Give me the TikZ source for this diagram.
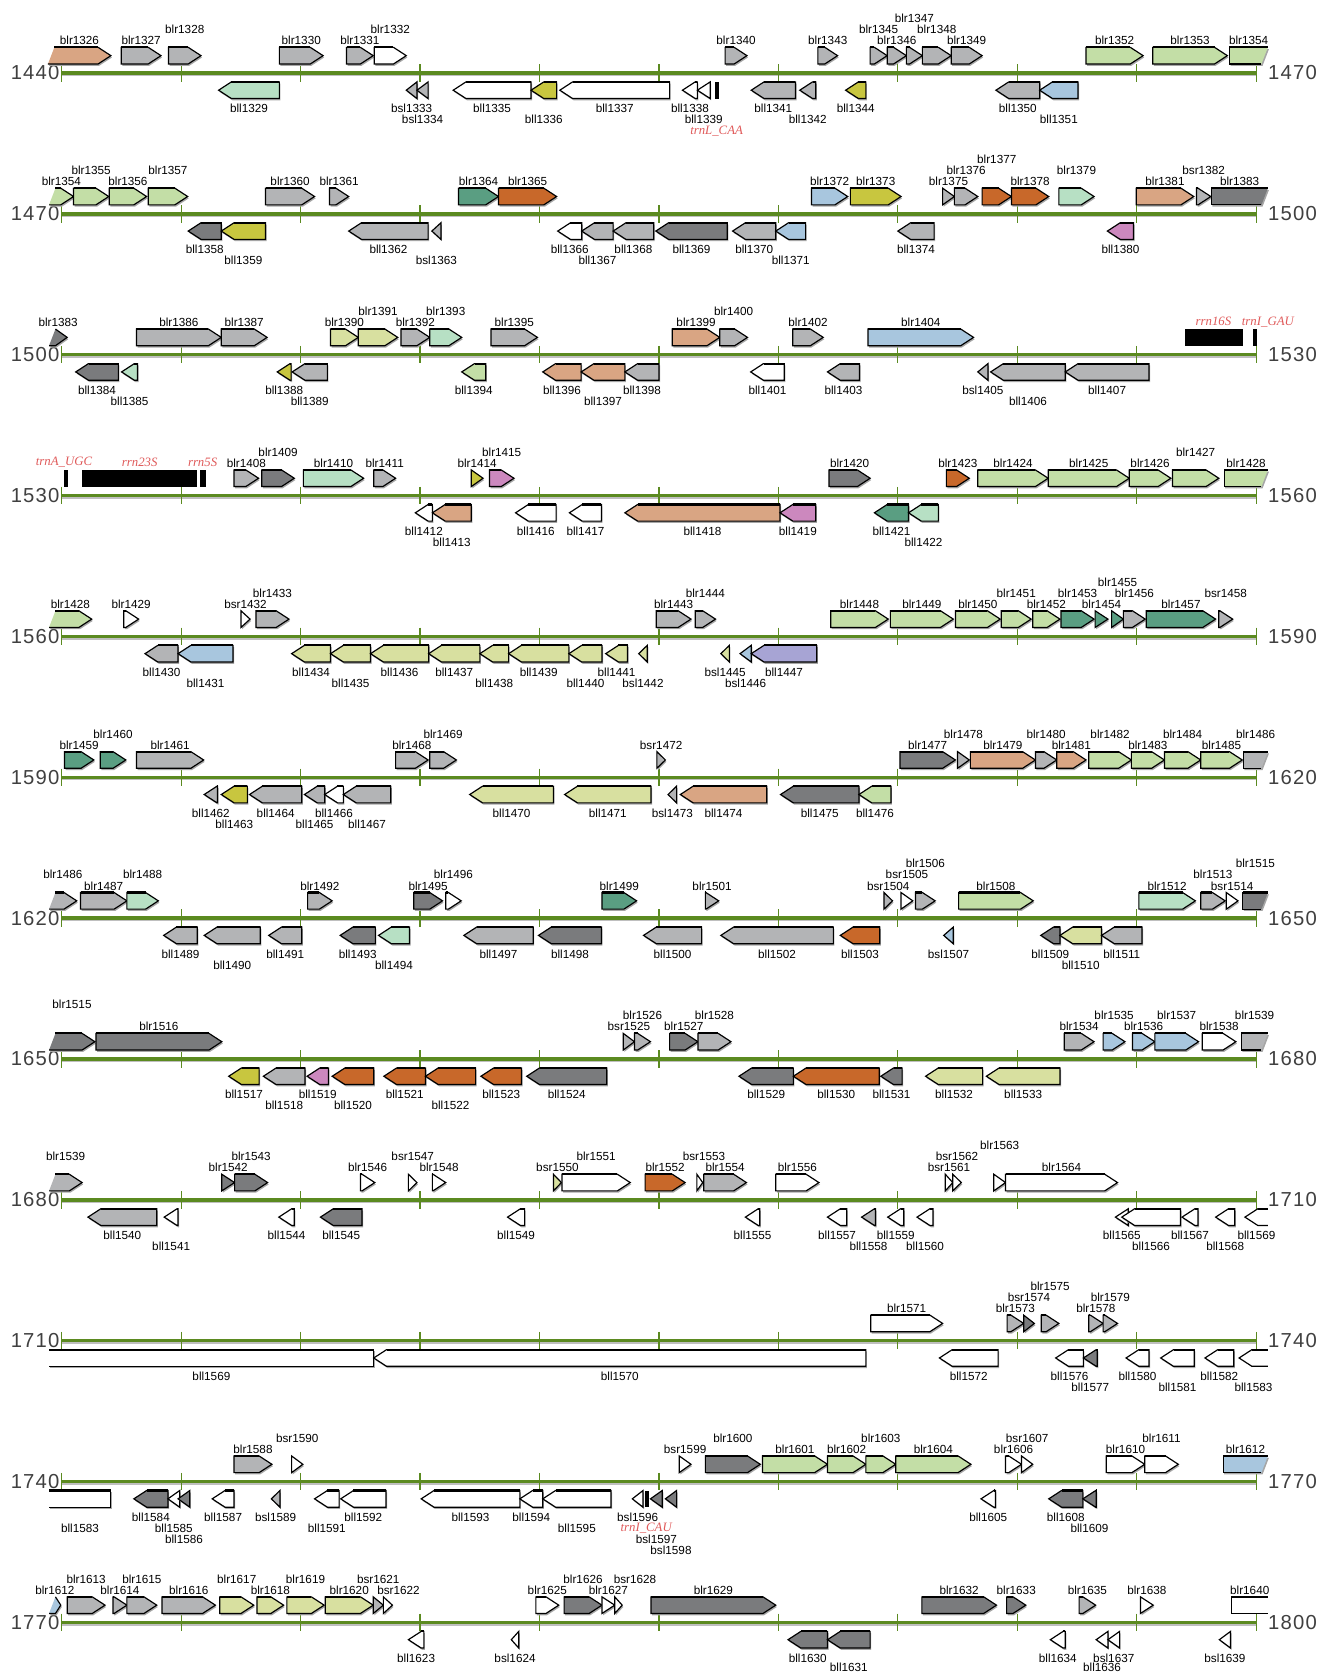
\documentclass[tikz,border=0pt]{standalone}
\usepackage{fontspec}
\usepackage{tikz}
\newfontfamily\labelfam{Liberation Sans}
\newfontfamily\numfam[LetterSpace=6]{Liberation Sans}
\newfontfamily\rnafam{Liberation Serif}
\definecolor{axisgreen}{HTML}{5B8A20}
\definecolor{rnared}{HTML}{E05A5A}
\definecolor{csalmon}{HTML}{D9A583}
\definecolor{cgray}{HTML}{B3B4B6}
\definecolor{cdgray}{HTML}{7A7B7D}
\definecolor{clgreen}{HTML}{C3DEA6}
\definecolor{cmint}{HTML}{B7E0C4}
\definecolor{colive}{HTML}{C8C63F}
\definecolor{cteal}{HTML}{5A9E82}
\definecolor{corange}{HTML}{C8682A}
\definecolor{cblue}{HTML}{A8C6DE}
\definecolor{cpink}{HTML}{CC88BE}
\definecolor{cpyg}{HTML}{D8E0A0}
\definecolor{clav}{HTML}{A7A4D4}
\newcommand\genefont{\labelfam\fontsize{11}{12}\selectfont}
\newcommand\rnafont{\rnafam\itshape\fontsize{12}{13}\selectfont}
\newcommand\numfont{\numfam\fontsize{19}{20}\selectfont}
\newcommand\lblshift{0}
\newcommand\rowy[1]{\pgfmathsetmacro\yy{68.4+132.1*#1}}
\newcommand\uplbl[4]{\pgfmathsetmacro\ly{\yy-30.3-10.4*(#4-1)}\node[lbl] (#3) at ({(#1+#2)/2+\lblshift},\ly) {#3};}
\newcommand\dnlbl[4]{\pgfmathsetmacro\ly{min(\yy+33.5+10.3*(#4-1),1563.3)}\node[lbl] (#3) at ({(#1+#2)/2+\lblshift},\ly) {#3};}
% genes on the upper strand, tip on the right
\newcommand\fgene[6]{\rowy{#1}\pgfmathsetmacro\xb{max(#2,#3-12)}%
  \fill[geneshadow] (#2,\yy-24) -- (\xb,\yy-24) -- (#3,\yy-16.2) -- (\xb,\yy-8.4) -- (#2,\yy-8.4) -- cycle;
  \draw[gene,fill=#4] (#2,\yy-24) -- (\xb,\yy-24) -- (#3,\yy-16.2) -- (\xb,\yy-8.4) -- (#2,\yy-8.4) -- cycle;
  \draw[genetop] (#2,\yy-24) -- (\xb,\yy-24);
  \uplbl{#2}{#3}{#5}{#6}}
\newcommand\fgenecl[6]{\rowy{#1}\pgfmathsetmacro\xb{max(#2+6,#3-12)}%
  \fill[geneshadow] (#2,\yy-8.4) -- (#2+6,\yy-24) -- (\xb,\yy-24) -- (#3,\yy-16.2) -- (\xb,\yy-8.4) -- cycle;
  \fill[#4] (#2,\yy-8.4) -- (#2+6,\yy-24) -- (\xb,\yy-24) -- (#3,\yy-16.2) -- (\xb,\yy-8.4) -- cycle;
  \draw[gene] (#2+6,\yy-24) -- (\xb,\yy-24) -- (#3,\yy-16.2) -- (\xb,\yy-8.4) -- (#2,\yy-8.4);
  \draw[genetop] (#2+6,\yy-24) -- (\xb,\yy-24);
  \uplbl{#2}{#3}{#5}{#6}}
\newcommand\fgenecr[6]{\rowy{#1}%
  \fill[geneshadow] (#2,\yy-24) -- (#3,\yy-24) -- (#3-6,\yy-8.4) -- (#2,\yy-8.4) -- cycle;
  \fill[#4] (#2,\yy-24) -- (#3,\yy-24) -- (#3-6,\yy-8.4) -- (#2,\yy-8.4) -- cycle;
  \draw[gene] (#3,\yy-24) -- (#2,\yy-24) -- (#2,\yy-8.4) -- (#3-6,\yy-8.4);
  \draw[genetop] (#2,\yy-24) -- (#3,\yy-24);
  \uplbl{#2}{#3}{#5}{#6}}
\newcommand\fgeneor[6]{\rowy{#1}%
  \fill[#4] (#2,\yy-24) rectangle (#3,\yy-8.4);
  \draw[gene] (#3,\yy-24) -- (#2,\yy-24) -- (#2,\yy-8.4) -- (#3,\yy-8.4);
  \draw[genetop] (#2,\yy-24) -- (#3,\yy-24);
  \uplbl{#2}{#3}{#5}{#6}}
% genes on the lower strand, tip on the left
\newcommand\rgene[6]{\rowy{#1}\pgfmathsetmacro\xb{min(#3,#2+12)}%
  \fill[geneshadow] (#3,\yy+8.4) -- (\xb,\yy+8.4) -- (#2,\yy+16.2) -- (\xb,\yy+24) -- (#3,\yy+24) -- cycle;
  \draw[gene,fill=#4] (#3,\yy+8.4) -- (\xb,\yy+8.4) -- (#2,\yy+16.2) -- (\xb,\yy+24) -- (#3,\yy+24) -- cycle;
  \draw[genetop] (#3,\yy+8.4) -- (\xb,\yy+8.4);
  \dnlbl{#2}{#3}{#5}{#6}}
\newcommand\rgeneor[6]{\rowy{#1}\pgfmathsetmacro\xb{min(#3,#2+12)}%
  \fill[#4] (#3,\yy+8.4) -- (\xb,\yy+8.4) -- (#2,\yy+16.2) -- (\xb,\yy+24) -- (#3,\yy+24) -- cycle;
  \draw[gene] (#3,\yy+8.4) -- (\xb,\yy+8.4) -- (#2,\yy+16.2) -- (\xb,\yy+24) -- (#3,\yy+24);
  \draw[genetop] (#3,\yy+8.4) -- (\xb,\yy+8.4);
  \dnlbl{#2}{#3}{#5}{#6}}
\newcommand\rgeneol[6]{\rowy{#1}%
  \fill[geneshadow] (#2,\yy+8.4) rectangle (#3,\yy+24);
  \fill[#4] (#2,\yy+8.4) rectangle (#3,\yy+24);
  \draw[gene] (#2,\yy+8.4) -- (#3,\yy+8.4) -- (#3,\yy+24) -- (#2,\yy+24);
  \draw[genetop] (#2,\yy+8.4) -- (#3,\yy+8.4);
  \dnlbl{#2}{#3}{#5}{#6}}
% rRNA and tRNA
\newcommand\frna[6]{\rowy{#1}%
  \fill (#2,\yy-24) rectangle (#3,\yy-8.4);
  \node[rnalbl] (#4) at (#6,\yy-31) {#5};}
\newcommand\rrna[7]{\rowy{#1}%
  \fill (#2,\yy+8.4) rectangle (#3,\yy+24);
  \pgfmathsetmacro\ly{\yy+33.5+10.3*(#7-1)}%
  \node[rnalbl] (#4) at (#6,\ly) {#5};}

\begin{document}
\begin{tikzpicture}[x=1pt, y=-1pt,
  gene/.style={draw=black, line width=1.1pt, line join=miter},
  genetop/.style={draw=black, line width=2pt},
  geneshadow/.style={fill=black!35, shift={(1,1.7)}},
  lbl/.style={font=\genefont, inner sep=0pt},
  rnalbl/.style={font=\rnafont, text=rnared, inner sep=0pt},
  axisline/.style={draw=axisgreen, line width=3.2pt},
  tickmark/.style={draw=axisgreen, line width=1.2pt},
  num/.style={font=\numfont, text=black!75, inner sep=0pt}]
\fill[white] (0,0) rectangle (1247,1568);
\useasboundingbox (0,0) rectangle (1247,1568);

\foreach \r in {0,...,11}{
  \rowy{\r}
  \pgfmathtruncatemacro\ka{1440+30*\r}
  \pgfmathtruncatemacro\kb{1470+30*\r}
  \draw[black!25, line width=1.5pt] (58,\yy+2.2) -- (1178,\yy+2.2);
  \draw[axisline] (58,\yy) -- (1178,\yy);
  \foreach \t in {0,...,10}
    \draw[tickmark] (58+112*\t,\yy-8.2) -- (58+112*\t,\yy+8.2);
  \node[num, anchor=east] (left\r) at (56,\yy) {\ka};
  \node[num, anchor=west] (right\r) at (1189,\yy) {\kb};
}

% 1440-1470
\fgenecl{0}{45}{104}{csalmon}{blr1326}{1}
\fgene{0}{113.7}{151}{cgray}{blr1327}{1}
\fgene{0}{158}{188.5}{cgray}{blr1328}{2}
\fgene{0}{262}{303}{cgray}{blr1330}{1}
\fgene{0}{325}{350}{cgray}{blr1331}{1}
\fgene{0}{351}{381}{white}{blr1332}{2}
\fgene{0}{680}{700.5}{cgray}{blr1340}{1}
\fgene{0}{767}{785.5}{cgray}{blr1343}{1}
\fgene{0}{816}{832}{cgray}{blr1345}{2}
\fgene{0}{832}{850}{cgray}{blr1346}{1}
\fgene{0}{850}{865}{cgray}{blr1347}{3}
\fgene{0}{865}{892}{cgray}{blr1348}{2}
\fgene{0}{892}{921}{cgray}{blr1349}{1}
\fgene{0}{1018.5}{1072}{clgreen}{blr1352}{1}
\fgene{0}{1081}{1151}{clgreen}{blr1353}{1}
\fgenecr{0}{1153}{1189}{clgreen}{blr1354}{1}
\rgene{0}{205}{262}{cmint}{bll1329}{1}
\rgene{0}{381}{391}{cgray}{bsl1333}{1}
\rgene{0}{391}{401.5}{cgray}{bsl1334}{2}
\rgene{0}{425}{498}{white}{bll1335}{1}
\rgene{0}{498}{522}{colive}{bll1336}{2}
\rgene{0}{525}{628}{white}{bll1337}{1}
\rgene{0}{640}{654}{white}{bll1338}{1}
\rgene{0}{654}{666}{white}{bll1339}{2}
\rrna{0}{670.5}{674.5}{trnLCAA}{trnL\_CAA}{672}{3}
\rgene{0}{704.5}{746}{cgray}{bll1341}{1}
\rgene{0}{750}{765}{cgray}{bll1342}{2}
\rgene{0}{793}{812}{colive}{bll1344}{1}
\rgene{0}{934}{975}{cgray}{bll1350}{1}
\rgene{0}{975}{1011}{cblue}{bll1351}{2}

% 1470-1500
\fgenecl{1}{46}{69}{clgreen}{blr1354}{1}
\fgene{1}{69}{102}{clgreen}{blr1355}{2}
\fgene{1}{102.5}{137.5}{clgreen}{blr1356}{1}
\fgene{1}{139}{176}{clgreen}{blr1357}{2}
\fgene{1}{249}{295}{cgray}{blr1360}{1}
\fgene{1}{309}{327}{cgray}{blr1361}{1}
\fgene{1}{430}{467.5}{cteal}{blr1364}{1}
\fgene{1}{467.5}{522}{corange}{blr1365}{1}
\fgene{1}{761}{795}{cblue}{blr1372}{1}
\fgene{1}{797.5}{845}{colive}{blr1373}{1}
\fgene{1}{884}{895}{cgray}{blr1375}{1}
\fgene{1}{895}{917}{cgray}{blr1376}{2}
\fgene{1}{921}{948.5}{corange}{blr1377}{3}
\fgene{1}{948.5}{983.5}{corange}{blr1378}{1}
\fgene{1}{993}{1026}{cmint}{blr1379}{2}
\fgene{1}{1065.5}{1119.5}{csalmon}{blr1381}{1}
\fgene{1}{1122}{1135.5}{cgray}{bsr1382}{2}
\fgenecr{1}{1136}{1189}{cdgray}{blr1383}{1}
\rgene{1}{176.5}{207.5}{cdgray}{bll1358}{1}
\rgene{1}{207.5}{249}{colive}{bll1359}{2}
\rgene{1}{327}{401.5}{cgray}{bll1362}{1}
\rgene{1}{405}{413.5}{cgray}{bsl1363}{2}
\rgene{1}{523}{545.5}{white}{bll1366}{1}
\rgene{1}{545.5}{575}{cgray}{bll1367}{2}
\rgene{1}{575}{613}{cgray}{bll1368}{1}
\rgene{1}{615}{682}{cdgray}{bll1369}{1}
\rgene{1}{687}{727.5}{cgray}{bll1370}{1}
\rgene{1}{727.5}{755.5}{cblue}{bll1371}{2}
\rgene{1}{842}{876}{cgray}{bll1374}{1}
\rgene{1}{1038.5}{1063}{cpink}{bll1380}{1}

% 1500-1530
\fgenecl{2}{46}{63}{cdgray}{blr1383}{1}
\fgene{2}{128}{207.5}{cgray}{blr1386}{1}
\fgene{2}{207.5}{250.5}{cgray}{blr1387}{1}
\fgene{2}{310}{336}{cpyg}{blr1390}{1}
\fgene{2}{336}{373}{cpyg}{blr1391}{2}
\fgene{2}{376}{403}{cgray}{blr1392}{1}
\fgene{2}{403}{433}{cmint}{blr1393}{2}
\fgene{2}{460.5}{504}{cgray}{blr1395}{1}
\fgene{2}{630.5}{675}{csalmon}{blr1399}{1}
\fgene{2}{675}{701}{cgray}{blr1400}{2}
\fgene{2}{743.5}{772}{cgray}{blr1402}{1}
\fgene{2}{814}{913}{cblue}{blr1404}{1}
\frna{2}{1111}{1166}{rrn16S}{rrn16S}{1138}
\frna{2}{1175.5}{1179}{trnIGAU}{trnI\_GAU}{1189}
\rgene{2}{71}{111}{cdgray}{bll1384}{1}
\rgene{2}{114}{129}{cmint}{bll1385}{2}
\rgene{2}{260}{273}{colive}{bll1388}{1}
\rgene{2}{274}{307}{cgray}{bll1389}{2}
\rgene{2}{433}{455.5}{clgreen}{bll1394}{1}
\rgene{2}{509}{545}{csalmon}{bll1396}{1}
\rgene{2}{545}{586}{csalmon}{bll1397}{2}
\rgene{2}{586}{618}{cgray}{bll1398}{1}
\rgene{2}{704}{735.5}{white}{bll1401}{1}
\rgene{2}{776}{806}{cgray}{bll1403}{1}
\rgene{2}{917}{926.5}{cgray}{bsl1405}{1}
\rgene{2}{929}{999}{cgray}{bll1406}{2}
\rgene{2}{999}{1077.5}{cgray}{bll1407}{1}

% 1530-1560
\frna{3}{59.6}{63.6}{trnAUGC}{trnA\_UGC}{60}
\frna{3}{77}{184.5}{rrn23S}{rrn23S}{131}
\frna{3}{187.5}{193}{rrn5S}{rrn5S}{190}
\fgene{3}{219.5}{242.5}{cgray}{blr1408}{1}
\fgene{3}{245.5}{276}{cdgray}{blr1409}{2}
\fgene{3}{284.5}{341}{cmint}{blr1410}{1}
\fgene{3}{350.5}{371}{cgray}{blr1411}{1}
\fgene{3}{442}{453}{colive}{blr1414}{1}
\fgene{3}{459}{482}{cpink}{blr1415}{2}
\fgene{3}{777.5}{816}{cdgray}{blr1420}{1}
\fgene{3}{887.5}{909}{corange}{blr1423}{1}
\fgene{3}{917}{983}{clgreen}{blr1424}{1}
\fgene{3}{983}{1059}{clgreen}{blr1425}{1}
\fgene{3}{1059}{1098}{clgreen}{blr1426}{1}
\fgene{3}{1099.5}{1143}{clgreen}{blr1427}{2}
\fgenecr{3}{1148}{1189}{clgreen}{blr1428}{1}
\rgene{3}{389.5}{405.5}{white}{bll1412}{1}
\rgene{3}{405.5}{442}{csalmon}{bll1413}{2}
\rgene{3}{483.5}{521.5}{white}{bll1416}{1}
\rgene{3}{534}{564}{white}{bll1417}{1}
\rgene{3}{586}{731.5}{csalmon}{bll1418}{1}
\rgene{3}{731.5}{765}{cpink}{bll1419}{1}
\rgene{3}{820}{852}{cteal}{bll1421}{1}
\rgene{3}{852}{880}{cmint}{bll1422}{2}

% 1560-1590
\fgenecl{4}{46}{86}{clgreen}{blr1428}{1}
\fgene{4}{116}{130}{white}{blr1429}{1}
\fgene{4}{226}{234.5}{white}{bsr1432}{1}
\fgene{4}{240}{271}{cgray}{blr1433}{2}
\fgene{4}{615.5}{648}{cgray}{blr1443}{1}
\fgene{4}{652}{671}{cgray}{blr1444}{2}
\fgene{4}{779}{833}{clgreen}{blr1448}{1}
\fgene{4}{835}{894}{clgreen}{blr1449}{1}
\fgene{4}{896}{938}{clgreen}{blr1450}{1}
\fgene{4}{939}{967}{clgreen}{blr1451}{2}
\fgene{4}{968.5}{994}{clgreen}{blr1452}{1}
\fgene{4}{995}{1026}{cteal}{blr1453}{2}
\fgene{4}{1027}{1039}{cteal}{blr1454}{1}
\fgene{4}{1042.5}{1053.5}{cteal}{blr1455}{3}
\fgene{4}{1053.5}{1074}{cgray}{blr1456}{2}
\fgene{4}{1075}{1140}{cteal}{blr1457}{1}
\fgene{4}{1143}{1156}{cgray}{bsr1458}{2}
\rgene{4}{136}{167}{cgray}{bll1430}{1}
\rgene{4}{167}{218.5}{cblue}{bll1431}{2}
\rgene{4}{273.5}{310}{cpyg}{bll1434}{1}
\rgene{4}{310}{347.5}{cpyg}{bll1435}{2}
\rgene{4}{347.5}{402}{cpyg}{bll1436}{1}
\rgene{4}{402}{450}{cpyg}{bll1437}{1}
\rgene{4}{450}{477}{cpyg}{bll1438}{2}
\rgene{4}{477}{533.5}{cpyg}{bll1439}{1}
\rgene{4}{533.5}{564.5}{cpyg}{bll1440}{2}
\rgene{4}{568}{588.5}{cpyg}{bll1441}{1}
\rgene{4}{599}{607}{cpyg}{bsl1442}{2}
\rgene{4}{676}{684}{cpyg}{bsl1445}{1}
\rgene{4}{694}{704.5}{cblue}{bsl1446}{2}
\rgene{4}{704.5}{766}{clav}{bll1447}{1}

% 1590-1620
\fgene{5}{60.5}{88}{cteal}{blr1459}{1}
\fgene{5}{94}{118}{cteal}{blr1460}{2}
\fgene{5}{128}{191}{cgray}{blr1461}{1}
\fgene{5}{371}{401.5}{cgray}{blr1468}{1}
\fgene{5}{403}{428}{cgray}{blr1469}{2}
\fgene{5}{616}{624}{cgray}{bsr1472}{1}
\fgene{5}{844}{896}{cdgray}{blr1477}{1}
\fgene{5}{898}{909}{cgray}{blr1478}{2}
\fgene{5}{910}{971}{csalmon}{blr1479}{1}
\fgene{5}{971}{991}{cgray}{blr1480}{2}
\fgene{5}{991}{1018.5}{csalmon}{blr1481}{1}
\fgene{5}{1021}{1061}{clgreen}{blr1482}{2}
\fgene{5}{1061}{1092}{clgreen}{blr1483}{1}
\fgene{5}{1092}{1126}{clgreen}{blr1484}{2}
\fgene{5}{1126}{1165}{clgreen}{blr1485}{1}
\fgenecr{5}{1166}{1189}{cgray}{blr1486}{2}
\rgene{5}{191.5}{204}{cgray}{bll1462}{1}
\rgene{5}{207.5}{232}{colive}{bll1463}{2}
\rgene{5}{234}{283}{cgray}{bll1464}{1}
\rgene{5}{285.5}{304.5}{cgray}{bll1465}{2}
\rgene{5}{304.5}{322}{white}{bll1466}{1}
\rgene{5}{322}{366.5}{cgray}{bll1467}{2}
\rgene{5}{440.5}{519}{cpyg}{bll1470}{1}
\rgene{5}{529.5}{610.5}{cpyg}{bll1471}{1}
\rgene{5}{626.5}{634.5}{cgray}{bsl1473}{1}
\rgene{5}{638}{719}{csalmon}{bll1474}{1}
\rgene{5}{732}{805.5}{cdgray}{bll1475}{1}
\rgene{5}{805.5}{835.5}{clgreen}{bll1476}{1}

% 1620-1650
\fgenecl{6}{46}{72}{cgray}{blr1486}{2}
\fgene{6}{75.5}{119}{cgray}{blr1487}{1}
\fgene{6}{119}{148.5}{cmint}{blr1488}{2}
\fgene{6}{288.5}{311.5}{cgray}{blr1492}{1}
\fgene{6}{388}{415}{cdgray}{blr1495}{1}
\fgene{6}{418}{432.5}{white}{blr1496}{2}
\fgene{6}{564.5}{597}{cteal}{blr1499}{1}
\fgene{6}{661.5}{674}{cgray}{blr1501}{1}
\fgene{6}{829}{837}{cgray}{bsr1504}{1}
\fgene{6}{845}{856}{white}{bsr1505}{2}
\fgene{6}{858.5}{877}{cgray}{blr1506}{3}
\fgene{6}{899}{969}{clgreen}{blr1508}{1}
\fgene{6}{1068}{1121}{cmint}{blr1512}{1}
\fgene{6}{1126}{1149}{cgray}{blr1513}{2}
\fgene{6}{1150}{1161}{white}{bsr1514}{1}
\fgenecr{6}{1165.5}{1189}{cdgray}{blr1515}{3}
\rgene{6}{153.5}{185}{cgray}{bll1489}{1}
\rgene{6}{191.5}{244}{cgray}{bll1490}{2}
\rgene{6}{252}{283}{cgray}{bll1491}{1}
\rgene{6}{319}{352}{cdgray}{bll1493}{1}
\rgene{6}{355}{384}{cmint}{bll1494}{2}
\rgene{6}{435}{500}{cgray}{bll1497}{1}
\rgene{6}{505}{564}{cdgray}{bll1498}{1}
\rgene{6}{603.5}{658}{cgray}{bll1500}{1}
\rgene{6}{676}{781.5}{cgray}{bll1502}{1}
\rgene{6}{788}{825}{corange}{bll1503}{1}
\rgene{6}{885}{894}{cblue}{bsl1507}{1}
\rgene{6}{976}{994}{cdgray}{bll1509}{1}
\rgene{6}{994}{1033}{cpyg}{bll1510}{2}
\rgene{6}{1033}{1071}{cgray}{bll1511}{1}

% 1650-1680
\fgenecl{7}{46}{89}{cdgray}{blr1515}{3}
\fgene{7}{90}{208}{cdgray}{blr1516}{1}
\fgene{7}{584.5}{595}{cgray}{bsr1525}{1}
\fgene{7}{595}{610}{cgray}{blr1526}{2}
\fgene{7}{628}{654.5}{cdgray}{blr1527}{1}
\fgene{7}{654.5}{685.5}{cgray}{blr1528}{2}
\fgene{7}{998}{1026}{cgray}{blr1534}{1}
\fgene{7}{1034.5}{1055}{cblue}{blr1535}{2}
\fgene{7}{1062}{1083}{cblue}{blr1536}{1}
\fgene{7}{1083}{1124}{cblue}{blr1537}{2}
\fgene{7}{1127.5}{1159}{white}{blr1538}{1}
\fgenecr{7}{1164}{1189}{cgray}{blr1539}{2}
\rgene{7}{214.5}{243}{colive}{bll1517}{1}
\rgene{7}{247}{286}{cgray}{bll1518}{2}
\rgene{7}{288}{308}{cpink}{bll1519}{1}
\rgene{7}{311.5}{350.5}{corange}{bll1520}{2}
\rgene{7}{360}{399}{corange}{bll1521}{1}
\rgene{7}{399}{446}{corange}{bll1522}{2}
\rgene{7}{451}{489}{corange}{bll1523}{1}
\rgene{7}{494}{569}{cdgray}{bll1524}{1}
\rgene{7}{693}{744}{cdgray}{bll1529}{1}
\rgene{7}{744}{824.5}{corange}{bll1530}{1}
\rgene{7}{826}{846}{cdgray}{bll1531}{1}
\rgene{7}{868}{921.5}{cpyg}{bll1532}{1}
\rgene{7}{925}{994}{cpyg}{bll1533}{1}

% 1680-1710
\fgenecl{8}{46}{77}{cgray}{blr1539}{2}
\fgene{8}{208}{220}{cdgray}{blr1542}{1}
\fgene{8}{220}{251}{cdgray}{blr1543}{2}
\fgene{8}{338}{351.5}{white}{blr1546}{1}
\fgene{8}{383}{391}{white}{bsr1547}{2}
\fgene{8}{405.5}{418}{white}{blr1548}{1}
\fgene{8}{519}{526.5}{cpyg}{bsr1550}{1}
\fgene{8}{527}{591}{white}{blr1551}{2}
\fgene{8}{605}{642.5}{corange}{blr1552}{1}
{\renewcommand\lblshift{4}\fgene{8}{653.5}{659}{white}{bsr1553}{2}}
\fgene{8}{660}{700}{cgray}{blr1554}{1}
\fgene{8}{727.5}{768}{white}{blr1556}{1}
\fgene{8}{886.5}{893.5}{white}{bsr1561}{1}
\fgene{8}{893.5}{901.5}{white}{bsr1562}{2}
\fgene{8}{932}{943}{white}{blr1563}{3}
\fgene{8}{943}{1048}{white}{blr1564}{1}
\rgene{8}{82.5}{147}{cgray}{bll1540}{1}
\rgene{8}{154}{167}{white}{bll1541}{2}
\rgene{8}{261.5}{276}{white}{bll1544}{1}
\rgene{8}{300.5}{339.5}{cdgray}{bll1545}{1}
\rgene{8}{476}{492}{white}{bll1549}{1}
\rgene{8}{699}{712.5}{white}{bll1555}{1}
\rgene{8}{776}{794}{white}{bll1557}{1}
\rgene{8}{808}{821}{cgray}{bll1558}{2}
\rgene{8}{832.5}{847.5}{white}{bll1559}{1}
\rgene{8}{860}{875}{white}{bll1560}{2}
\rgene{8}{1046}{1058}{white}{bll1565}{1}
\rgene{8}{1052}{1107}{white}{bll1566}{2}
\rgene{8}{1108.5}{1123.5}{white}{bll1567}{1}
\rgene{8}{1140}{1158}{white}{bll1568}{2}
\rgeneor{8}{1167.5}{1189}{white}{bll1569}{1}

% 1710-1740
\fgene{9}{816.5}{884}{white}{blr1571}{1}
\fgene{9}{944.5}{960}{cgray}{blr1573}{1}
\fgene{9}{960}{970}{cdgray}{bsr1574}{2}
\fgene{9}{976.5}{993}{cgray}{blr1575}{3}
\fgene{9}{1021}{1034.5}{cgray}{blr1578}{1}
\fgene{9}{1034.5}{1048}{cgray}{blr1579}{2}
\rgeneol{9}{46}{350.5}{white}{bll1569}{1}
\rgene{9}{350.5}{812}{white}{bll1570}{1}
\rgene{9}{881}{936}{white}{bll1572}{1}
\rgene{9}{990}{1016}{white}{bll1576}{1}
\rgene{9}{1016}{1029}{cdgray}{bll1577}{2}
\rgene{9}{1056}{1077.5}{white}{bll1580}{1}
\rgene{9}{1088.5}{1120}{white}{bll1581}{2}
\rgene{9}{1130}{1157}{white}{bll1582}{1}
\rgeneor{9}{1162}{1189}{white}{bll1583}{2}

% 1740-1770
\fgene{10}{219.5}{255}{cgray}{blr1588}{1}
\fgene{10}{273.5}{284}{white}{bsr1590}{2}
\fgene{10}{637}{648}{white}{bsr1599}{1}
\fgene{10}{661.5}{713}{cdgray}{blr1600}{2}
\fgene{10}{715}{776}{clgreen}{blr1601}{1}
\fgene{10}{776}{812}{clgreen}{blr1602}{1}
\fgene{10}{812}{840}{clgreen}{blr1603}{2}
\fgene{10}{840}{910.5}{clgreen}{blr1604}{1}
\fgene{10}{943}{958}{white}{blr1606}{1}
\fgene{10}{958}{968.5}{white}{bsr1607}{2}
\fgene{10}{1037.5}{1073.5}{white}{blr1610}{1}
\fgene{10}{1073.5}{1105}{white}{blr1611}{2}
\fgenecr{10}{1147}{1189}{cblue}{blr1612}{1}
\rgeneol{10}{46}{104}{white}{bll1583}{2}
\rgene{10}{125.5}{157.5}{cdgray}{bll1584}{1}
\rgene{10}{157.5}{168.5}{white}{bll1585}{2}
\rgene{10}{167}{178}{cdgray}{bll1586}{3}
\rgene{10}{199}{219.5}{white}{bll1587}{1}
\rgene{10}{254.5}{262.5}{cgray}{bsl1589}{1}
\rgene{10}{295}{318}{white}{bll1591}{2}
\rgene{10}{319.5}{362}{white}{bll1592}{1}
\rgene{10}{395}{487.5}{white}{bll1593}{1}
\rgene{10}{487.5}{509}{white}{bll1594}{1}
\rgene{10}{509}{573}{white}{bll1595}{2}
\rgene{10}{593}{603}{white}{bsl1596}{1}
\rrna{10}{604.5}{608.5}{trnICAU}{trnI\_CAU}{606}{2}
\rgene{10}{610}{621}{cdgray}{bsl1597}{3}
\rgene{10}{624}{634.5}{cdgray}{bsl1598}{4}
\rgene{10}{920}{933.5}{white}{bll1605}{1}
\rgene{10}{983.5}{1015.5}{cdgray}{bll1608}{1}
\rgene{10}{1015.5}{1028}{cdgray}{bll1609}{2}

% 1770-1800
\fgenecl{11}{46}{57}{cblue}{blr1612}{1}
\fgene{11}{63}{98.5}{cgray}{blr1613}{2}
\fgene{11}{106}{119}{cgray}{blr1614}{1}
\fgene{11}{119}{147}{cgray}{blr1615}{2}
\fgene{11}{152}{202}{cgray}{blr1616}{1}
\fgene{11}{206}{238}{cpyg}{blr1617}{2}
\fgene{11}{241}{266}{cpyg}{blr1618}{1}
\fgene{11}{269}{304}{cpyg}{blr1619}{2}
\fgene{11}{305}{350}{cpyg}{blr1620}{1}
\fgene{11}{350}{359.5}{cgray}{bsr1621}{2}
{\renewcommand\lblshift{10}\fgene{11}{359.5}{368}{white}{bsr1622}{1}}
\fgene{11}{502.5}{524}{white}{blr1625}{1}
\fgene{11}{529}{564.5}{cdgray}{blr1626}{2}
\fgene{11}{564.5}{576.5}{white}{blr1627}{1}
{\renewcommand\lblshift{15.5}\fgene{11}{576.5}{583.5}{white}{bsr1628}{2}}
\fgene{11}{610.5}{727.5}{cdgray}{blr1629}{1}
\fgene{11}{864.5}{934.5}{cdgray}{blr1632}{1}
\fgene{11}{944}{962}{cdgray}{blr1633}{1}
\fgene{11}{1012}{1027.5}{cgray}{blr1635}{1}
\fgene{11}{1069.5}{1081.5}{white}{blr1638}{1}
\fgeneor{11}{1155}{1189}{white}{blr1640}{1}
\rgene{11}{383}{397.5}{white}{bll1623}{1}
\rgene{11}{479.5}{486.5}{white}{bsl1624}{1}
\rgene{11}{739}{776}{cdgray}{bll1630}{1}
\rgene{11}{776}{816}{cdgray}{bll1631}{2}
\rgene{11}{985}{999}{white}{bll1634}{1}
\rgene{11}{1028}{1039}{white}{bll1636}{2}
\rgene{11}{1039}{1050}{white}{bsl1637}{1}
\rgene{11}{1143.5}{1154}{white}{bsl1639}{1}
\end{tikzpicture}
\end{document}
